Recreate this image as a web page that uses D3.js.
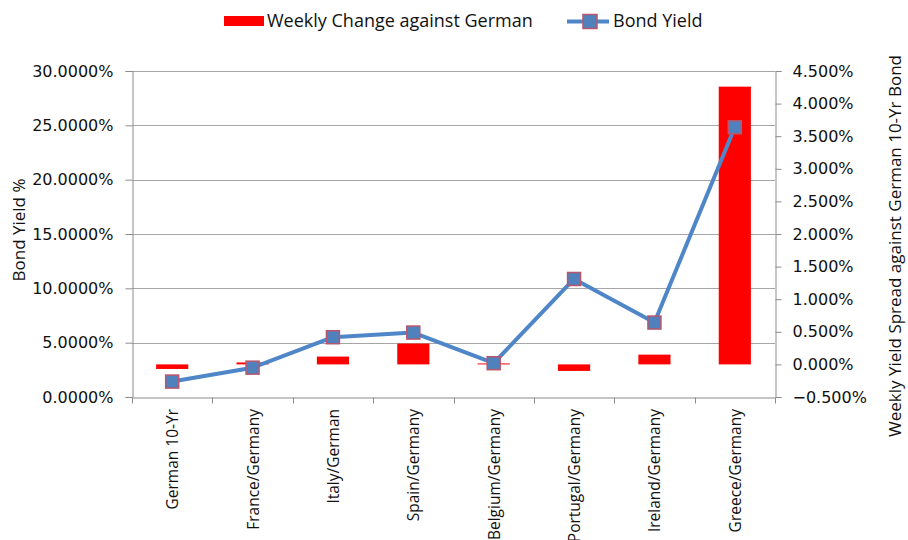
<!DOCTYPE html>
<html>
<head>
<meta charset="utf-8">
<script src="https://cdn.jsdelivr.net/npm/d3@7"></script>
<style>
  html, body { margin: 0; padding: 0; background: #fff; }
  svg { display: block; }
</style>
</head>
<body>
<svg id="chart" width="908" height="540"></svg>
<script>
// Eurozone 10-yr bond yields and weekly change of the spread against Germany
const categories = ["German 10-Yr", "France/Germany", "Italy/German", "Spain/Germany",
                    "Belgium/Germany", "Portugal/Germany", "Ireland/Germany", "Greece/Germany"];
// Bond yield, percent (left axis)
const bondYield = [1.42, 2.70, 5.50, 5.93, 3.11, 10.86, 6.85, 24.82];
// Weekly change of the yield spread against German 10-yr, percent (right axis)
const weeklyChange = [-0.07, 0.03, 0.12, 0.32, 0.015, -0.10, 0.15, 4.26];
// Axis tick values, percent
const leftTicks = [0, 5, 10, 15, 20, 25, 30];
const rightTicks = [-0.5, 0, 0.5, 1, 1.5, 2, 2.5, 3, 3.5, 4, 4.5];

const svg = d3.select("#chart");
const plot = { left: 132, right: 775, top: 71, bottom: 397 };

const x = d3.scaleBand().domain(categories).range([plot.left, plot.right]).padding(0);
const yL = d3.scaleLinear().domain([0, 30]).range([plot.bottom, plot.top]);
const yR = d3.scaleLinear().domain([-0.5, 4.5]).range([plot.bottom, plot.top]);

const fmtL = v => d3.format(".4f")(v) + "%";
const fmtR = v => d3.format(".3f")(v) + "%";

const tickFont = "'DejaVu Sans', Verdana, sans-serif";
const textFont = "'Open Sans', 'Noto Sans', sans-serif";
const axisGray = "#8c8c8c";

// Horizontal gridlines on the left-axis ticks
svg.append("g")
  .selectAll("line")
  .data(leftTicks.filter(t => t > 0))
  .join("line")
  .attr("x1", plot.left).attr("x2", plot.right)
  .attr("y1", d => Math.round(yL(d)) + 0.5).attr("y2", d => Math.round(yL(d)) + 0.5)
  .attr("stroke", "#a6a6a6").attr("stroke-width", 1);

// Bars: weekly spread change on the right axis
const barW = x.bandwidth() * 0.4;
svg.append("g")
  .selectAll("rect")
  .data(categories.map((c, i) => ({ c, v: weeklyChange[i] })))
  .join("rect")
  .attr("x", d => x(d.c) + (x.bandwidth() - barW) / 2)
  .attr("width", barW)
  .attr("y", d => Math.min(yR(0), yR(d.v)))
  .attr("height", d => Math.abs(yR(d.v) - yR(0)))
  .attr("fill", "#ff0000");

// Left axis
const axL = svg.append("g")
  .attr("transform", `translate(${plot.left + 0.5},0)`)
  .call(d3.axisLeft(yL).tickValues(leftTicks).tickFormat(fmtL).tickSize(7).tickPadding(12));
// Right axis
const axR = svg.append("g")
  .attr("transform", `translate(${plot.right + 0.5},0)`)
  .call(d3.axisRight(yR).tickValues(rightTicks).tickFormat(fmtR).tickSize(6).tickPadding(11));
// Category axis with ticks on band boundaries
const axB = svg.append("g")
  .attr("transform", `translate(0,${plot.bottom + 0.5})`)
  .call(d3.axisBottom(x).tickSize(0).tickFormat(""));
axB.append("g")
  .selectAll("line")
  .data(d3.range(categories.length + 1))
  .join("line")
  .attr("x1", i => Math.round(plot.left + i * x.bandwidth()) + 0.5)
  .attr("x2", i => Math.round(plot.left + i * x.bandwidth()) + 0.5)
  .attr("y1", 0).attr("y2", 6)
  .attr("stroke", axisGray);

[axL, axR, axB].forEach(g => {
  g.selectAll(".domain").attr("stroke", axisGray);
  g.selectAll(".tick line").attr("stroke", axisGray);
  g.selectAll(".tick text")
    .attr("font-family", tickFont).attr("font-size", 16).attr("fill", "#111");
});
axR.selectAll(".tick text").attr("text-anchor", "start");

// Rotated category labels (the longest ones run past the bottom edge)
svg.append("g")
  .selectAll("text")
  .data(categories)
  .join("text")
  .attr("transform", d => `translate(${x(d) + x.bandwidth() / 2 + 6},${plot.bottom + 12}) rotate(-90)`)
  .attr("text-anchor", "end")
  .attr("font-family", textFont).attr("font-size", 15.5).attr("fill", "#111")
  .text(d => d);

// Axis titles
svg.append("text")
  .attr("transform", `translate(25,${(plot.top + plot.bottom) / 2 - 4}) rotate(-90)`)
  .attr("text-anchor", "middle")
  .attr("font-family", textFont).attr("font-size", 17).attr("fill", "#111")
  .text("Bond Yield %");
svg.append("text")
  .attr("transform", `translate(901,246) rotate(-90)`)
  .attr("text-anchor", "middle")
  .attr("font-family", textFont).attr("font-size", 17).attr("fill", "#111")
  .text("Weekly Yield Spread against German 10-Yr Bond");

// Bond yield line with square markers on the left axis
const lineColor = "#4f86c8";
const pts = categories.map((c, i) => [x(c) + x.bandwidth() / 2, yL(bondYield[i])]);
svg.append("path")
  .datum(pts)
  .attr("d", d3.line())
  .attr("fill", "none")
  .attr("stroke", lineColor).attr("stroke-width", 4).attr("stroke-linejoin", "round");
const mk = 13;
svg.append("g")
  .selectAll("rect")
  .data(pts)
  .join("rect")
  .attr("x", d => d[0] - mk / 2).attr("y", d => d[1] - mk / 2)
  .attr("width", mk).attr("height", mk)
  .attr("fill", "#4f81bd").attr("stroke", "#b9566c").attr("stroke-width", 1.5);

// Legend
const lg = svg.append("g");
lg.append("rect").attr("x", 224).attr("y", 16).attr("width", 40).attr("height", 10).attr("fill", "#ff0000");
lg.append("text").attr("x", 267).attr("y", 27)
  .attr("font-family", textFont).attr("font-size", 18).attr("fill", "#111")
  .text("Weekly Change against German");
lg.append("line").attr("x1", 567).attr("x2", 609).attr("y1", 21.5).attr("y2", 21.5)
  .attr("stroke", lineColor).attr("stroke-width", 4);
lg.append("rect").attr("x", 590 - 7).attr("y", 21.5 - 7).attr("width", 14).attr("height", 14)
  .attr("fill", "#4f81bd").attr("stroke", "#b9566c").attr("stroke-width", 1.5);
lg.append("text").attr("x", 613).attr("y", 27)
  .attr("font-family", textFont).attr("font-size", 18).attr("fill", "#111")
  .text("Bond Yield");
</script>
</body>
</html>
